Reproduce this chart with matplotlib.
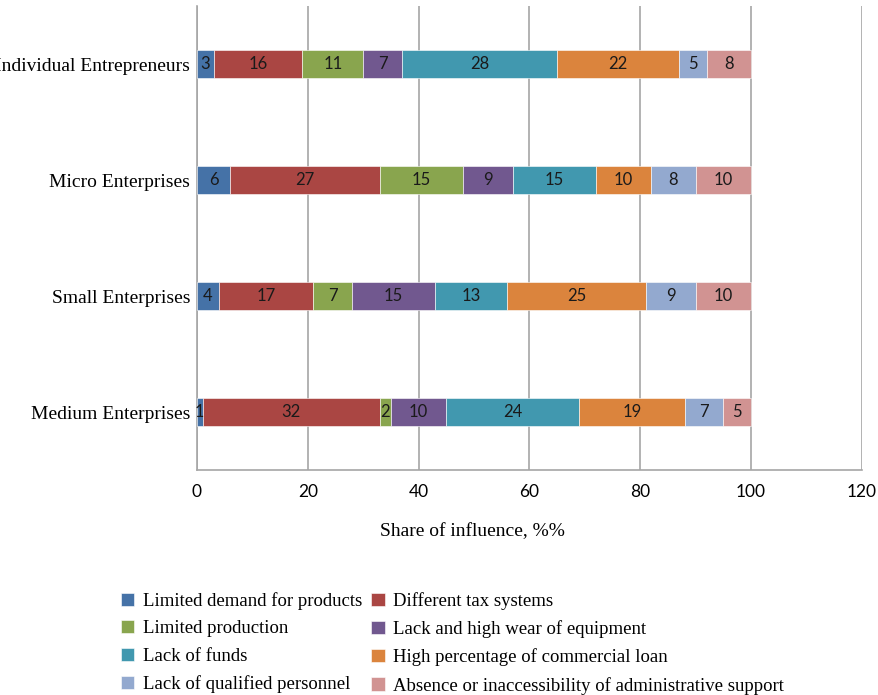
import matplotlib.pyplot as plt
import numpy as np

categories = ["Medium Enterprises", "Small Enterprises", "Micro Enterprises", "Individual Entrepreneurs"]

factors = [
    "Limited demand for products",
    "Different tax systems",
    "Limited production",
    "Lack and high wear of equipment",
    "Lack of funds",
    "High percentage of commercial loan",
    "Lack of qualified personnel",
    "Absence or inaccessibility of administrative support",
]

# shares per factor, ordered as categories (Medium, Small, Micro, Individual)
limited_demand = [1, 4, 6, 3]
tax_systems = [32, 17, 27, 16]
limited_production = [2, 7, 15, 11]
equipment = [10, 15, 9, 7]
lack_funds = [24, 13, 15, 28]
commercial_loan = [19, 25, 10, 22]
personnel = [7, 9, 8, 5]
admin_support = [5, 10, 10, 8]

series = [limited_demand, tax_systems, limited_production, equipment,
          lack_funds, commercial_loan, personnel, admin_support]
colors = ["#4572A7", "#AA4643", "#89A54E", "#71588F",
          "#4198AF", "#DB843D", "#93A9CF", "#D19392"]

serif = ["Liberation Serif", "DejaVu Serif"]
sans = ["Lato", "DejaVu Sans"]

fig = plt.figure(figsize=(8.79, 6.95), dpi=100)
ax = fig.add_axes([0.2241, 0.3237, 0.7565, 0.6676])

y = np.arange(len(categories))
left = np.zeros(len(categories))
for vals, col, lab in zip(series, colors, factors):
    vals = np.array(vals, dtype=float)
    bars = ax.barh(y, vals, left=left, height=0.245, color=col, label=lab,
                   edgecolor="white", linewidth=0.4, zorder=3)
    ax.bar_label(bars, labels=[f"{v:g}" for v in vals], label_type="center",
                 fontsize=12, family=sans, color="#1a1a1a")
    left += vals

ax.set_xlim(0, 120)
ax.set_ylim(-0.5, 3.5)
ax.set_xticks(np.arange(0, 121, 20))
ax.set_yticks(y)
ax.set_yticklabels(categories, family=serif, fontsize=14)
for t in ax.get_xticklabels():
    t.set_family(sans)
    t.set_fontsize(12.5)

ax.grid(axis="x", color="#a6a6a6", linewidth=1.2, zorder=0)
ax.tick_params(axis="both", length=0, pad=5)
ax.tick_params(axis="x", pad=10)
for side in ["top", "right"]:
    ax.spines[side].set_visible(False)
for side in ["left", "bottom"]:
    ax.spines[side].set_color("#a6a6a6")
    ax.spines[side].set_linewidth(1.2)

ax.set_xlabel("Share of influence, %%", family=serif, fontsize=14, labelpad=18)
ax.xaxis.set_label_coords(0.414, -0.115)

# legend filled row by row (two columns)
handles, labels = ax.get_legend_handles_labels()
order = [0, 2, 4, 6, 1, 3, 5, 7]
fig.legend([handles[i] for i in order], [labels[i] for i in order],
           loc="upper left", bbox_to_anchor=(0.138, 0.148), ncol=2, frameon=False,
           prop={"family": serif, "size": 13.5}, handlelength=0.7, handleheight=0.7,
           handletextpad=0.45, columnspacing=0.5, labelspacing=0.55, borderaxespad=0,
           borderpad=0)

fig.savefig("out.png", dpi=100)
